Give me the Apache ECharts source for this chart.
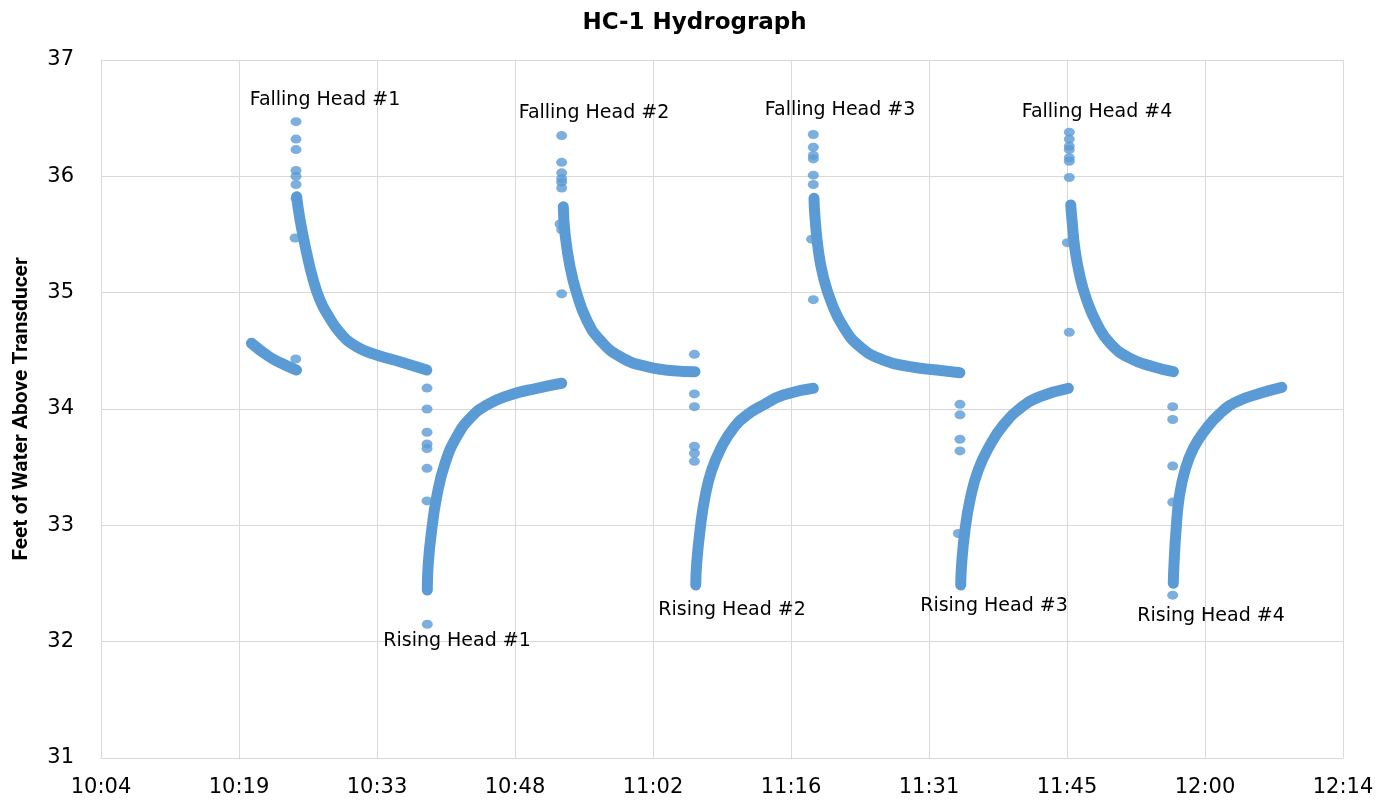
<!DOCTYPE html>
<html>
<head>
<meta charset="utf-8">
<script src="https://cdn.jsdelivr.net/npm/echarts@6/dist/echarts.min.js"></script>
<style>
html,body{margin:0;padding:0;background:#fff;}
#chart{width:1389px;height:804px;}
</style>
</head>
<body>
<div id="chart"></div>
<script>
// Time values are minutes since midnight; levels are feet of water above transducer.
const preTestRecovery = [[620.5,34.565],[622.4,34.447],[624.0,34.378],[625.2,34.335]];

const fallingHead1 = [[625.22,35.825],[625.57,35.625],[626.27,35.338],[626.95,35.109],[627.65,34.937],[628.35,34.825],[629.77,34.653],[631.48,34.535],[633.57,34.464],[636.0,34.406],[638.79,34.335]];
const risingHead1  = [[638.85,32.444],[638.95,32.673],[639.31,32.960],[639.83,33.246],[640.70,33.533],[641.92,33.762],[643.31,33.920],[645.05,34.034],[647.48,34.120],[650.27,34.178],[652.88,34.221]];

const fallingHead2 = [[653.04,35.739],[653.22,35.510],[653.74,35.223],[654.44,34.994],[655.48,34.765],[656.87,34.593],[658.96,34.450],[661.74,34.364],[664.52,34.329],[666.78,34.321]];
const risingHead2  = [[666.86,32.487],[666.96,32.673],[667.31,32.960],[667.83,33.246],[668.53,33.476],[669.57,33.676],[670.78,33.834],[672.18,33.948],[673.91,34.034],[675.99,34.120],[679.13,34.178]];

const fallingHead3 = [[679.20,35.811],[679.30,35.653],[679.65,35.367],[680.17,35.137],[681.05,34.909],[682.26,34.707],[684.00,34.535],[686.43,34.421],[689.22,34.364],[692.01,34.335],[694.43,34.312]];
const risingHead3  = [[694.51,32.487],[694.61,32.673],[694.96,32.960],[695.48,33.218],[696.34,33.476],[697.57,33.690],[698.96,33.862],[700.70,34.006],[702.79,34.106],[705.74,34.178]];

const fallingHead4 = [[705.99,35.754],[706.09,35.653],[706.44,35.367],[706.96,35.137],[707.66,34.937],[708.70,34.737],[710.09,34.565],[712.18,34.436],[714.61,34.364],[716.70,34.321]];
const risingHead4  = [[716.69,32.502],[716.77,32.673],[716.98,32.960],[717.32,33.246],[717.92,33.476],[718.79,33.662],[720.01,33.819],[721.58,33.963],[723.32,34.063],[725.75,34.135],[728.02,34.186]];

// Isolated readings taken while the slug was entering / leaving the well
const transientReadings = [
  [625.12,34.43],
  [625.15,36.47],[625.15,36.32],[625.15,36.23],[625.15,36.05],[625.15,36.00],[625.15,35.93],[625.15,35.81],[625.05,35.47],
  [638.82,34.18],[638.82,34.00],[638.82,33.80],[638.82,33.70],[638.82,33.66],[638.82,33.49],[638.82,33.21],[638.85,32.15],
  [652.87,36.35],[652.87,36.12],[652.87,36.03],[652.87,35.98],[652.87,35.95],[652.87,35.90],[652.70,35.59],[652.87,35.54],[652.87,34.99],
  [666.72,34.47],[666.72,34.13],[666.72,34.02],[666.72,33.68],[666.72,33.62],[666.72,33.55],
  [679.13,36.36],[679.13,36.25],[679.13,36.18],[679.13,36.15],[679.13,36.01],[679.13,35.93],[678.95,35.46],[679.13,34.94],
  [694.43,34.04],[694.43,33.95],[694.43,33.74],[694.43,33.64],[694.26,32.93],
  [705.84,36.38],[705.84,36.32],[705.84,36.26],[705.84,36.23],[705.84,36.16],[705.84,36.13],[705.84,35.99],[705.63,35.43],[705.84,34.66],
  [716.63,34.02],[716.63,33.91],[716.63,33.51],[716.63,33.20],[716.63,32.40]
];

const annotationText = ['Falling Head #1','Falling Head #2','Falling Head #3','Falling Head #4',
                        'Rising Head #1','Rising Head #2','Rising Head #3','Rising Head #4'];
const annotationAt = [[628.17,36.656],[656.24,36.544],[681.92,36.570],[708.73,36.553],
                      [641.95,32.006],[670.65,32.272],[697.98,32.306],[720.63,32.220]];

const xTicks = {min:604.8, max:734.4, interval:14.4};   // 0.01-day steps, as in the source workbook
const yTicks = {min:31, max:37, interval:1};

const BLUE = '#5B9BD5';
const FONT = 'DejaVu Sans';

function fmtTime(v){
  const m = Math.floor(v + 1e-6);
  const h = Math.floor(m/60), mm = m%60;
  return h + ':' + (mm<10?'0':'') + mm;
}

const curves = [preTestRecovery,fallingHead1,risingHead1,fallingHead2,risingHead2,fallingHead3,risingHead3,fallingHead4,risingHead4];

const series = curves.map(d => ({
  type:'line', data:d, smooth:0.5, showSymbol:false, silent:true,
  lineStyle:{color:BLUE, width:11, cap:'round', join:'round'}
}));
series.push({
  type:'scatter', data:transientReadings, symbol:'circle', symbolSize:[11,9],
  itemStyle:{color:BLUE}, silent:true
});
series.push({
  type:'scatter', symbolSize:1, silent:true,
  itemStyle:{color:'rgba(0,0,0,0)'},
  data: annotationAt.map((p,i)=>({value:p, name:annotationText[i]})),
  label:{show:true, position:'inside', formatter:p=>p.name, color:'#000000',
         textBorderWidth:0, opacity:1, fontFamily:FONT, fontSize:19}
});

const chart = echarts.init(document.getElementById('chart'), null, {renderer:'canvas'});
chart.setOption({
  animation:false,
  backgroundColor:'#fff',
  title:{text:'HC-1 Hydrograph', left:'center', top:7,
         textStyle:{fontFamily:FONT, fontWeight:'bold', fontSize:23, color:'#000'}},
  grid:{left:101, right:46, top:60, bottom:46},
  xAxis:{type:'value', min:xTicks.min, max:xTicks.max, interval:xTicks.interval,
    axisLine:{show:true, lineStyle:{color:'#D9D9D9', width:1}},
    axisTick:{show:false},
    splitLine:{show:true, lineStyle:{color:'#D9D9D9', width:1}},
    axisLabel:{formatter:fmtTime, color:'#000', fontFamily:FONT, fontSize:21, margin:19}},
  yAxis:{type:'value', min:yTicks.min, max:yTicks.max, interval:yTicks.interval,
    name:'Feet of Water Above Transducer', nameLocation:'middle', nameGap:69,
    nameTextStyle:{fontFamily:'Roboto', fontWeight:'bold', fontSize:21, color:'#000'},
    axisLine:{show:true, lineStyle:{color:'#D9D9D9', width:1}},
    axisTick:{show:false},
    splitLine:{show:true, lineStyle:{color:'#D9D9D9', width:1}},
    axisLabel:{color:'#000', fontFamily:FONT, fontSize:21, margin:27}},
  series:series
});
</script>
</body>
</html>
